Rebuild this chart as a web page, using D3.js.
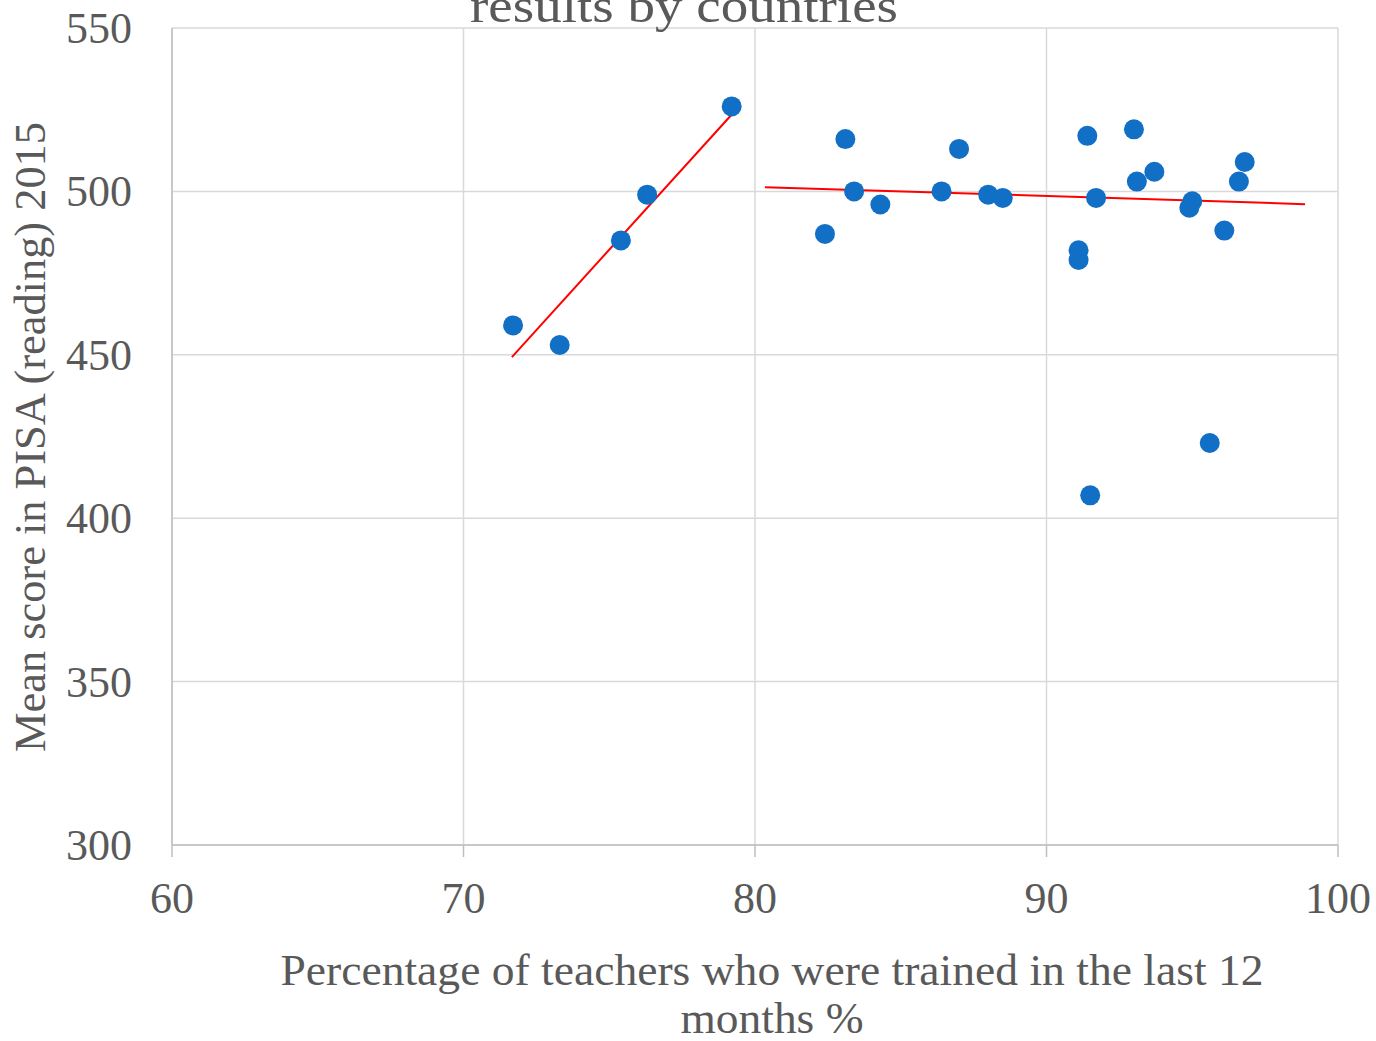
<!DOCTYPE html>
<html><head><meta charset="utf-8">
<script src="https://cdn.jsdelivr.net/npm/d3@7"></script>
<style>html,body{margin:0;padding:0;background:#fff;}svg{display:block;}</style>
</head><body>
<svg id="c" width="1376" height="1041"></svg>
<script>
const xValues = [71.7,73.3,75.4,76.3,79.2,82.4,83.1,83.4,84.3,86.4,87.0,88.0,88.5,91.1,91.1,91.4,91.7,91.5,93.0,93.1,93.7,94.9,95.0,95.6,96.1,96.6,96.8];
const yValues = [459,453,485,499,526,487,516,500,496,500,513,499,498,482,479,517,498,407,519,503,506,495,497,423,488,503,509];
const trend1X = [71.66, 79.25];
const trend1Y = [449.3, 524.0];
const trend2X = [80.34, 98.87];
const trend2Y = [501.3, 496.1];
const xTicks = [60,70,80,90,100];
const yTicks = [300,350,400,450,500,550];
const titleText = "results by countries";
const xTitle = ["Percentage of teachers who were trained in the last 12","months %"];
const yTitle = "Mean score in PISA (reading) 2015";

const svg = d3.select("#c");
const font = "'Liberation Serif', serif";
const textColor = "#595959";
const L=172, R=1338, T=28, B=845;
const x = d3.scaleLinear().domain([60,100]).range([L,R]);
const y = d3.scaleLinear().domain([300,550]).range([B,T]);

const g = svg.append("g");
// grid
g.selectAll(".vg").data(xTicks).enter().append("line")
 .attr("x1",d=>x(d)).attr("x2",d=>x(d)).attr("y1",T).attr("y2",B)
 .attr("stroke","#d9d9d9").attr("stroke-width",1.5);
g.selectAll(".hg").data(yTicks).enter().append("line")
 .attr("x1",L).attr("x2",R).attr("y1",d=>y(d)).attr("y2",d=>y(d))
 .attr("stroke","#d9d9d9").attr("stroke-width",1.5);
// axis lines & ticks
g.append("line").attr("x1",L).attr("x2",R).attr("y1",B).attr("y2",B).attr("stroke","#bfbfbf").attr("stroke-width",1.5);
g.append("line").attr("x1",L).attr("x2",L).attr("y1",T).attr("y2",B).attr("stroke","#bfbfbf").attr("stroke-width",1.5);
g.selectAll(".xt").data(xTicks).enter().append("line")
 .attr("x1",d=>x(d)).attr("x2",d=>x(d)).attr("y1",B).attr("y2",B+12)
 .attr("stroke","#bfbfbf").attr("stroke-width",1.5);

// tick labels
g.selectAll(".xl").data(xTicks).enter().append("text")
 .attr("x",d=>x(d)).attr("y",913).attr("text-anchor","middle")
 .attr("font-family",font).attr("font-size",44).attr("fill",textColor).text(d=>d);
g.selectAll(".yl").data(yTicks).enter().append("text")
 .attr("x",132).attr("y",d=>y(d)+15).attr("text-anchor","end")
 .attr("font-family",font).attr("font-size",44).attr("fill",textColor).text(d=>d);

// trend lines
[[trend1X,trend1Y],[trend2X,trend2Y]].forEach(([tx,ty])=>{
  g.append("line").attr("x1",x(tx[0])).attr("y1",y(ty[0])).attr("x2",x(tx[1])).attr("y2",y(ty[1]))
   .attr("stroke","#ff0000").attr("stroke-width",2);
});

// points
g.selectAll(".pt").data(xValues.map((v,i)=>[v,yValues[i]])).enter().append("circle")
 .attr("cx",d=>x(d[0])).attr("cy",d=>y(d[1])).attr("r",10).attr("fill","#1170c6");

// title
svg.append("text").attr("x",684).attr("y",22).attr("text-anchor","middle")
 .attr("font-family",font).attr("font-size",48).attr("fill",textColor)
 .attr("textLength",428).attr("lengthAdjust","spacingAndGlyphs").text(titleText);
// x title
const xtLens = [983, 183];
svg.selectAll(".xtt").data(xTitle).enter().append("text")
 .attr("x",772).attr("y",(d,i)=>985+i*48).attr("text-anchor","middle")
 .attr("font-family",font).attr("font-size",44).attr("fill",textColor)
 .attr("textLength",(d,i)=>xtLens[i]).attr("lengthAdjust","spacingAndGlyphs").text(d=>d);
// y title
svg.append("text").attr("transform","translate(45,437) rotate(-90)").attr("text-anchor","middle")
 .attr("font-family",font).attr("font-size",44).attr("fill",textColor)
 .attr("textLength",630).attr("lengthAdjust","spacingAndGlyphs").text(yTitle);
</script>
</body></html>
